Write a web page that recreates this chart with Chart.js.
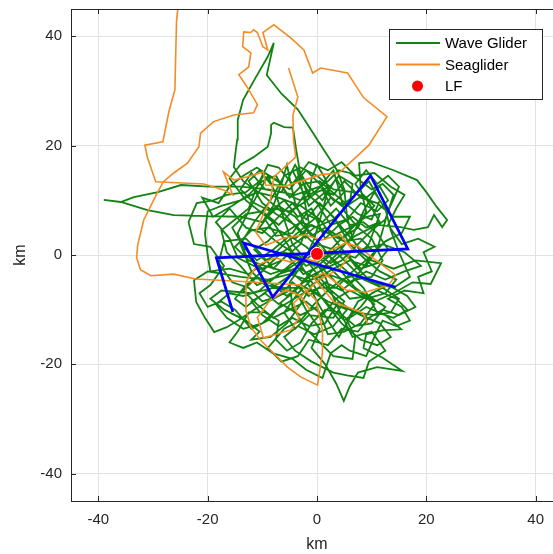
<!DOCTYPE html>
<html>
<head>
<meta charset="utf-8">
<script src="https://cdn.jsdelivr.net/npm/chart.js@4/dist/chart.umd.min.js"></script>
<style>
  html, body { margin: 0; padding: 0; background: #fff; overflow: hidden; }
  #wrap { position: absolute; left: 0; top: 0; width: 600px; height: 554px; }
</style>
</head>
<body>
<div id="wrap"><canvas id="chart" width="600" height="554"></canvas></div>
<script>
// tick values for both axes (km)
const tickValues = [-40, -20, 0, 20, 40];

// Wave Glider track, [x km, y km]
const waveGlider = [
  [-2.0,3.0],[-6.0,7.5],[-10.0,11.0],[-13.5,13.5],[-15.2,16.1],[-15.0,18.0],[-14.6,21.1],[-14.5,24.7],
  [-13.5,28.4],[-11.2,32.5],[-9.0,36.3],[-7.9,38.8],[-9.2,32.9],[-6.5,29.5],[-3.5,26.6],[-1.1,22.9],
  [1.2,19.3],[3.6,15.6],[5.0,12.0],[5.5,7.0],[6.5,3.0],[8.0,0.5],
  [10.0,-1.0],[14.0,-2.5],[18.0,-1.0],[22.7,-1.5],[20.8,-5.3],[17.5,-5.0],[14.0,-7.0],[10.5,-8.5],
  [7.0,-6.0],[4.0,-2.5],[1.0,1.5],[-2.0,5.0],[-4.0,9.5],[-5.0,14.0],[-5.5,16.5],[-6.5,13.0],
  [-8.0,9.0],[-10.0,6.0],[-13.9,7.0],[-20.0,7.1],[-26.2,7.3],[-31.0,8.2],[-35.9,9.7],[-39.0,10.1],
  [-35.9,9.7],[-33.5,10.6],[-29.1,11.5],[-24.9,12.8],[-19.8,12.5],[-13.9,12.5],[-9.0,12.0],[-4.0,11.0],
  [0.5,12.5],[3.0,15.5],[4.0,12.0],[5.0,8.0],[7.5,5.0],
  [9.0,8.0],[8.0,12.0],[7.7,16.8],[9.9,17.0],[14.0,15.5],[18.3,13.7],[20.0,11.5],[21.9,8.8],
  [23.8,6.4],[22.9,5.1],[21.4,7.3],[20.3,5.1],[17.7,4.6],[15.3,5.1],[11.0,5.5],[7.0,3.5],
  [3.0,0.5],[-1.0,-3.0],[-4.0,-6.5],
  [-2.0,-10.0],[0.5,-13.5],[-1.0,-17.0],[1.5,-20.0],[3.5,-23.5],[4.9,-26.7],[6.0,-24.0],[7.5,-21.5],
  [11.0,-20.5],[15.6,-21.2],[12.0,-18.8],[8.5,-17.0],[9.0,-14.5],[12.0,-13.8],[15.4,-13.6],[12.5,-11.0],
  [9.0,-9.5],[6.0,-11.5],[4.0,-15.0],[2.0,-12.0],[0.0,-8.5],[-2.0,-4.5],
  [-5.0,-3.5],[-9.0,-4.5],[-14.0,-4.0],[-20.0,-3.0],[-22.5,-4.6],[-22.1,-8.6],[-20.5,-11.5],[-18.8,-14.1],
  [-16.5,-13.2],[-14.3,-11.9],[-11.5,-10.0],[-8.0,-8.0],[-5.0,-6.5],[-8.0,-6.0],[-12.0,-7.0],[-17.5,-6.5],
  [-19.5,-8.0],[-17.0,-10.0],[-13.0,-12.0],[-10.5,-14.0],[-12.0,-15.5],[-8.5,-15.0],[-5.5,-12.5],[-3.0,-9.0],
  [-1.0,-5.5],
  [2.0,-3.5],[6.0,-5.0],[9.0,-3.0],[12.5,-4.5],[16.0,-3.0],[19.0,-2.0],[16.0,0.5],[12.0,2.0],
  [8.0,1.0],[5.0,4.5],[2.0,8.0],[-1.0,10.5],[-3.5,15.0],[-2.5,11.0],[-1.5,6.0],[-3.0,2.0],
  [-6.5,-1.0],[-10.0,-2.5],[-13.0,0.0],[-14.5,4.0],[-12.0,9.0],[-9.0,14.5],[-7.5,11.0],[-6.0,6.5],
  [-4.5,2.0],[-1.5,-1.5],[2.0,-6.0],[5.0,-8.5],[3.0,-11.5],[-1.5,-11.0],[-4.0,-13.5],[-6.0,-10.5],
  [-3.5,-7.0],[0.0,-3.5],[3.5,0.0],[6.5,3.5],[8.5,8.0],[10.5,11.5],[12.5,8.5],[13.5,4.5],[15.0,0.5],
  [17.0,-4.0],[14.0,-6.0],[10.0,-5.0],[7.0,-2.0],[3.5,2.5],[0.5,6.5],[-3.0,9.0],[-7.0,10.5],
  [-11.0,11.5],[-14.0,10.0],[-17.5,9.0],[-20.0,8.0],[-20.5,4.0],[-20.0,0.0],[-19.5,-3.0],[-16.0,-2.5],
  [-12.5,-3.5],[-9.0,-1.0],[-6.0,2.0],[-3.0,4.5],[0.0,7.0],[2.5,10.5],[1.5,14.0],[0.0,16.5],
  [-1.0,14.0],[-1.5,10.5],
  [-3.0,14.5],[-3.8,19.2],[-4.4,23.3],[-6.0,23.4],[-7.9,24.2],[-8.4,23.8],[-8.4,22.3],[-9.0,19.8],
  [-11.6,17.9],[-14.0,16.5],[-16.0,14.0],[-13.0,10.0],[-8.0,6.0],[-3.5,-1.0],
  [1.0,-8.0],[4.5,-12.5],[8.0,-15.5],[11.0,-16.5],[13.5,-15.0],[11.5,-12.5],[8.0,-11.0],[5.0,-9.5],
  [2.5,-7.0],[0.0,-4.5],[-3.0,-2.5],[-6.0,-4.5],[-9.0,-6.5],[-13.0,-9.5],[-15.0,-8.0],[-13.0,-5.5],
  [-10.0,-3.0],[-7.0,0.0],[-3.5,2.5],[-0.5,5.0],[3.0,6.5],[6.0,9.5],[6.5,13.0],[4.0,14.5],
  [2.0,12.0],[1.0,8.0],[-0.5,3.0],
  [-2.5,-1.5],[-5.0,-5.0],[-4.5,-9.5],[-2.0,-13.5],[0.5,-16.0],[3.0,-18.5],[6.5,-19.0],[7.0,-15.0],
  [5.5,-12.0],[7.5,-8.5],[11.0,-6.5],[14.5,-8.0],[16.5,-10.0],[14.0,-11.5],[11.0,-10.5],[8.5,-6.0],
  [5.5,-3.0],[2.0,0.0],[-1.0,2.5],[-4.0,5.5],[-7.5,7.5],[-10.0,9.5],[-12.5,13.5],[-10.5,15.5],
  [-8.5,13.0],[-6.0,12.5],[-4.5,15.5],[-3.0,12.5],[-1.5,9.0],
  [1.5,11.5],[4.5,9.0],[7.0,11.0],[9.5,13.5],[11.5,10.0],[10.0,6.5],[7.5,7.5],[4.0,10.5],
  [0.5,13.5],[-2.5,13.0],[-5.0,10.5],[-7.0,13.5],[-9.5,15.0],[-11.0,12.5],[-12.5,8.5],[-15.0,6.5],
  [-17.5,4.5],[-16.5,0.5],[-14.0,-2.0],[-11.0,-5.5],[-7.5,-4.0],[-4.0,-1.0],[-0.5,0.5],[2.5,-1.5],
  [5.0,0.5],[8.0,-2.5],[11.0,-1.5],[13.0,1.0],[11.0,4.0],[8.5,6.0],[6.0,5.5],[3.5,8.5],
  [1.0,6.0],[-2.0,7.5],[-4.5,4.0],[-7.5,3.5],[-9.5,6.5],[-7.0,9.0],[-4.0,7.0],[-1.0,3.5],
  [1.5,5.0],[4.5,3.0],[7.5,5.0],[10.0,3.0],[12.0,-1.0],[10.0,-4.0],[7.0,-4.5],[4.5,-6.5],
  [1.5,-5.0],[-1.5,-7.5],[-4.5,-5.0],[-7.0,-7.5],[-10.0,-8.5],[-12.5,-6.0],[-15.5,-5.0],[-18.0,-1.5],
  [-17.0,2.5],[-13.0,3.0],[-10.5,0.5],[-8.0,-2.5],[-5.5,0.0],[-2.5,-3.5],[0.5,-2.0],[3.0,-4.5],
  [6.0,-8.0],[9.5,-7.5],[12.5,-9.5],[10.0,-12.5],[7.0,-13.0],[4.0,-10.5],[1.5,-10.0],[-1.0,-12.5],
  [-3.0,-16.0],[-5.5,-17.5],[-7.5,-15.5],[-7.0,-12.0],[-9.5,-10.5],[-12.5,-10.5],[-14.5,-14.0],[-16.0,-16.0],
  [-13.5,-17.0],[-11.0,-16.0],[-8.0,-18.0],[-4.5,-19.0],[-2.0,-21.0],[1.0,-22.5],[2.5,-18.0],[4.5,-16.5],
  [6.0,-17.5],[9.0,-18.5],[10.5,-15.0],[12.0,-12.0],[14.5,-13.0],[17.0,-12.0],[15.5,-9.5],[13.0,-8.0],
  [16.0,-6.5],[19.5,-7.0],[18.5,-4.0],[21.0,-3.0],[19.5,0.5],[21.5,1.5],[18.5,3.0],[15.5,2.0],
  [13.0,5.5],[14.5,8.5],[16.0,11.0],[13.5,12.5],[10.5,15.0],[7.0,14.5],[4.5,17.0],[2.0,15.5],
  [-1.5,17.0],[-4.5,13.0],[-7.0,16.0],[-9.0,16.5],[-10.5,13.5],[-13.0,11.5],[-16.5,11.0],[-19.0,10.0],
  [-22.0,9.5],[-23.5,6.0],[-22.5,2.0],[-19.5,1.5],[-17.0,-2.0],[-19.5,-5.5],[-21.5,-7.0],[-20.0,-9.5],
  [-17.5,-8.5],[-15.0,-10.0],[-12.0,-13.5],[-9.0,-12.0],[-6.5,-9.0],[-3.0,-11.0],[0.0,-9.5],[2.0,-14.5],
  [5.0,-14.0],[8.0,-12.5],[10.5,-9.0],[8.0,-7.0],[4.0,-4.0],[1.0,-1.0],[-2.0,1.5],[-5.0,3.5],
  [-8.0,1.0],[-11.0,-1.0],[-13.5,1.5],[-15.5,5.0],[-13.0,7.5],[-10.0,8.0],[-7.0,5.5],[-4.0,8.5],
  [-2.0,11.5],[0.0,9.5],[2.5,5.5],[5.5,6.5],[8.0,9.5],[11.0,8.0],[13.0,10.0],[11.5,12.5],
  [9.0,10.5],[6.5,11.5],[3.0,12.0],[0.0,14.5],[-3.0,16.0],[-6.0,14.5],[-8.5,10.0],[-11.5,6.0],
  [-14.0,2.0],[-12.0,-3.0],[-9.5,-5.5],[-6.0,-6.0],[-2.0,-6.0],[2.0,-8.5],[5.5,-10.0],[3.0,-13.0],
  [-0.5,-14.5],[-3.5,-13.0],[-6.0,-15.0],[-4.0,-17.5],[-1.0,-19.5],[3.0,-21.5],[5.5,-22.0],[8.5,-22.5],
  [9.5,-19.5],[12.5,-17.5],[10.0,-14.0],[6.5,-15.0],[3.5,-9.0],[1.5,-4.0],[-1.0,0.0],[-4.0,-2.5],
  [-7.0,-3.5],[-10.5,-6.5],[-13.5,-7.5],[-16.0,-7.0],[-18.5,-9.0],[-16.5,-11.5],[-13.5,-13.5],[-10.0,-12.5],
  [-7.5,-10.0],[-5.0,-8.5],[-2.5,-7.0],[0.5,-6.0],[3.5,-6.0],[6.5,-3.0],[9.5,-0.5],[12.5,2.5],
  [15.5,4.0],[17.0,7.0],[14.0,7.0],[11.0,9.5],[8.0,10.5],[5.0,13.5],[3.0,11.0],[1.0,12.0],
  [2.5,9.0],[5.0,11.5],[3.5,14.0],[1.0,10.0],[-1.5,12.5],[-4.0,16.5],[-6.5,11.5],[-9.5,12.0],
  [-12.0,15.0],[-14.0,12.0],[-11.5,9.5],[-8.5,8.0],[-6.0,10.0],[-3.5,7.0],[-1.0,8.5],[1.5,3.0],
  [4.0,5.5],[6.5,7.0],[9.0,5.0],[11.5,6.0],[9.5,9.5],[7.0,13.0],[9.0,15.5],[11.0,13.0],
  [13.0,14.5],[15.0,12.5],[13.0,8.0],[11.0,1.0],[9.0,-2.0],[6.0,-1.0],[3.0,-2.5],[0.5,-4.0],
  [-2.5,-5.0],[-5.5,-2.5],[-8.5,-3.5],[-11.5,-2.0],[-14.5,-0.5],[-16.0,3.0],[-18.5,6.0],[-16.0,8.5],
  [-13.0,5.0],[-10.0,4.0],[-7.0,7.0],[-4.5,9.5],[-2.0,6.5],[0.5,9.5],[3.0,7.0],[6.0,2.0],
  [8.5,-0.5],[11.5,-3.0],[14.5,-4.5],[12.5,-7.0],[9.0,-8.0],[6.0,-6.5],[3.5,-8.0],[1.0,-11.0],
  [-2.0,-8.5],[-5.0,-10.0],[-8.0,-11.5],[-11.0,-9.0],[-13.5,-6.5],[-11.0,-4.0],[-8.0,-5.5],[-5.5,-7.5],
  [-3.0,-5.5],[0.0,-7.0],[2.5,-9.5],[5.0,-12.0],[8.0,-9.5],[10.0,-7.0],[13.0,-5.5],[16.5,-7.5],
  [18.0,-9.5],[15.0,-11.0],[12.0,-10.0],[9.5,-11.5],[7.5,-14.0],[4.5,-13.5],[2.0,-16.5],[-1.5,-15.5],
  [-3.5,-18.5],[-6.5,-19.5],[-9.0,-17.0],[-6.0,-13.5],[-3.0,-12.0],[-0.5,-9.0],[2.0,-6.5],[4.5,-4.5],
  [7.5,-3.5],[10.5,0.5],[8.0,3.0],[5.0,2.5],[2.0,4.0],[-1.0,5.5],[-4.0,3.0],[-7.0,4.5],
  [-9.0,2.5],[-11.5,1.0],[-9.5,-1.0],[-6.5,0.5],[-3.5,0.0],[-0.5,-2.0],[2.5,1.0],[5.5,4.0],
  [8.0,6.5],[10.5,9.0],[8.5,11.0],[5.5,9.0],[3.0,10.0],
  [0.5,13.0],[-2.0,15.5],[-5.0,12.0],[-8.0,14.0],[-11.0,16.0],[-13.5,14.5],[-16.0,12.5],[-18.0,9.5],
  [-21.0,10.5],[-19.0,7.0],[-15.5,9.0],[-12.5,11.0],[-10.0,13.5],[-7.5,14.5],[-5.5,11.0],[-3.0,10.0],
  [-0.5,11.5],[2.0,13.5],[4.0,15.5],[6.0,15.0],[8.0,13.5],[10.0,12.0],[12.0,13.0],[14.0,11.0],
  [12.5,6.5],[10.0,4.5],[7.0,1.5],[4.5,-1.0],[1.5,-2.5],[-1.5,-4.0],[-4.5,-7.0],[-7.0,-9.0],
  [-9.5,-7.0],[-12.0,-8.5],[-10.0,-11.0],[-7.0,-13.0],[-4.5,-11.5],[-1.5,-13.0],[1.5,-12.5],[4.0,-8.5],
  [7.0,-10.5],[10.5,-11.0],[13.5,-10.5],[15.0,-8.0],[12.0,-6.0],[8.5,-4.5],[6.0,-2.0],[3.0,1.0],
  [0.0,2.0],[-3.0,-1.0],[-6.0,-3.0],[-9.5,-2.0],[-12.5,-1.0],[-15.0,1.5],[-12.0,4.5],[-9.0,5.0],
  [-6.0,4.0],[-3.0,6.0],[0.0,5.0],[3.0,3.5],[6.0,5.0],[9.0,7.0],[11.5,7.5],[9.5,2.0],
  [7.0,-0.5],[4.0,0.5],[1.0,-0.5],[-2.0,-2.0],[-4.5,0.5],[-7.5,2.5],[-10.5,5.0],[-8.0,8.5],
  [-5.0,8.0],[-2.5,9.5],[0.0,11.5],[2.5,12.5]
];

// Seaglider track, [x km, y km]; null = gap between dives
const seaglider = [
  [-25.3,46.7],[-25.7,42.7],[-26.0,30.2],[-27.1,26.2],[-28.2,20.7],[-31.5,20.1],[-31.0,17.8],[-29.5,13.4],
  [-20.7,13.0],[-17.1,11.9],[-15.4,11.0],[-17.1,15.2],[-15.2,13.7],[-12.7,14.3],[-9.8,15.2],[-9.4,12.8],
  [-5.7,12.6],[0.7,14.7],[4.0,15.0],[9.5,20.1],[12.8,25.3],[8.5,28.8],[5.6,33.3],[0.7,34.2],
  [-0.8,33.3],[-2.4,37.5],[-4.8,39.7],[-7.9,42.1],[-9.9,40.7],[-9.0,37.5],[-9.9,38.1],[-10.9,40.7],
  [-11.6,41.2],[-12.1,40.7],[-13.4,40.8],[-13.6,38.1],[-12.1,37.0],[-12.5,34.4],[-14.3,33.0],[-12.7,30.6],
  [-10.9,27.5],[-11.6,26.0],[-15.2,25.6],[-18.9,24.4],[-21.3,22.3],[-21.6,19.8],[-23.7,16.8],[-26.2,15.0],
  [-28.1,13.4],[-29.2,11.4],[-31.7,6.4],[-32.8,1.8],[-33.0,-0.5],[-32.3,-2.7],[-30.4,-3.8],[-26.2,-3.5],
  [-22.2,-4.4],[-12.7,-4.9],[-3.0,-5.5],[-0.2,-8.2],[1.0,-13.7],[1.0,-17.9],[0.1,-23.8],[-3.0,-22.3],
  [-5.4,-20.5],[-7.2,-18.7],[-10.3,-15.6],[-12.1,-13.2],[-13.0,-10.1],[-13.0,-4.9],[-10.9,-1.8],[-7.6,-0.5],
  [-4.8,-1.3],[-2.4,-0.5],[-0.1,-1.3],[2.5,0.9],[5.3,2.2],[7.6,1.5],[10.7,-0.9],[14.4,-3.7],
  [13.1,-5.5],[8.9,-6.8],[5.3,-6.4],[1.2,-3.3],[-0.6,-4.2],[3.1,-8.6],[8.4,-10.6],[9.3,-12.5],
  null,
  [-5.2,34.2],[-3.5,28.9],[-4.4,25.6],[-4.3,21.1],[-3.9,17.9],[-7.9,14.3],[-8.5,10.1],[-9.9,7.3],
  [-11.2,4.2],[-9.4,1.8],[-6.1,3.1],[-2.1,3.7],[0.7,2.7],[4.3,3.7],[6.5,0.9],[4.3,-2.4],
  [0.3,-4.6],[-4.3,-8.8],[-3.3,-11.5],[-4.8,-13.7],[-9.8,-15.2],[-10.9,-11.4],[-8.5,-8.2],[-5.7,-6.4],
  [-3.0,-7.5],[-1.2,-10.1]
];

// mooring array track, [x km, y km]
const mooringTrack = [[-15.4,-10.4],[-18.4,-0.5],[16.6,1.1],[9.8,14.5],[-8.1,-7.7],[-13.4,2.2],[14.4,-5.9]];

// LF position
const lfPoint = [[0, 0.2]];

const legendLabels = ['Wave Glider', 'Seaglider', 'LF'];
const colGreen = '#128212';
const colOrange = '#f48c25';
const colBlue = '#0000ff';
const colRed = '#ff0000';

const toXY = arr => arr.map(p => p ? {x: p[0], y: p[1]} : {x: NaN, y: NaN});

// box legend + inward tick marks + top axis line, matlab style
const matlabBox = {
  id: 'matlabBox',
  afterDraw(chart) {
    const ctx = chart.ctx;
    const a = chart.chartArea;
    const xs = chart.scales.x, ys = chart.scales.y;
    ctx.save();
    ctx.strokeStyle = '#262626';
    ctx.lineWidth = 1;
    ctx.beginPath();
    ctx.moveTo(a.left, a.top + 0.5);
    ctx.lineTo(a.right, a.top + 0.5);
    tickValues.forEach(v => {
      const px = Math.round(xs.getPixelForValue(v)) + 0.5;
      ctx.moveTo(px, a.bottom); ctx.lineTo(px, a.bottom - 5);
      ctx.moveTo(px, a.top); ctx.lineTo(px, a.top + 5);
      const py = Math.round(ys.getPixelForValue(v)) + 0.5;
      ctx.moveTo(a.left, py); ctx.lineTo(a.left + 5, py);
    });
    ctx.stroke();

    // legend
    const bx = 389.5, by = 29.5, bw = 153, bh = 70;
    ctx.fillStyle = '#fff';
    ctx.fillRect(bx, by, bw, bh);
    ctx.strokeStyle = '#262626';
    ctx.strokeRect(bx, by, bw, bh);
    const rows = [43, 64.5, 86];
    ctx.font = '15px "Liberation Sans", Arial, sans-serif';
    ctx.textBaseline = 'middle';
    ctx.fillStyle = '#000';
    legendLabels.forEach((lab, i) => {
      const y = rows[i];
      if (i < 2) {
        ctx.strokeStyle = i === 0 ? colGreen : colOrange;
        ctx.lineWidth = 1.8;
        ctx.beginPath();
        ctx.moveTo(396, y); ctx.lineTo(440, y);
        ctx.stroke();
      } else {
        ctx.fillStyle = colRed;
        ctx.beginPath();
        ctx.arc(417.5, y, 5.5, 0, Math.PI * 2);
        ctx.fill();
        ctx.fillStyle = '#000';
      }
      ctx.fillText(lab, 445, y + 1);
    });
    ctx.restore();
  }
};

Chart.defaults.font.family = '"Liberation Sans", Arial, sans-serif';

const tickFont = {size: 15};
new Chart(document.getElementById('chart'), {
  type: 'scatter',
  data: {
    datasets: [
      {label: legendLabels[2], data: toXY(lfPoint), showLine: false, pointRadius: 6.5,
       pointBackgroundColor: colRed, pointBorderColor: '#ffffff', pointBorderWidth: 1, order: 0},
      {label: 'track', data: toXY(mooringTrack), showLine: true, borderColor: colBlue, borderWidth: 2.8,
       pointRadius: 0, order: 1},
      {label: legendLabels[1], data: toXY(seaglider), showLine: true, spanGaps: false, borderColor: colOrange,
       borderWidth: 1.6, pointRadius: 0, order: 2},
      {label: legendLabels[0], data: toXY(waveGlider), showLine: true, borderColor: colGreen,
       borderWidth: 1.8, pointRadius: 0, order: 3}
    ]
  },
  options: {
    responsive: false,
    animation: false,
    devicePixelRatio: 1,
    layout: {padding: {top: 9, right: 37, left: 0, bottom: 0}},
    plugins: {legend: {display: false}, tooltip: {enabled: false}},
    scales: {
      x: {
        type: 'linear', min: -45, max: 45,
        afterBuildTicks: s => { s.ticks = tickValues.map(v => ({value: v})); },
        afterFit: s => { s.height = 53; s.paddingLeft = 0; s.paddingRight = 0; },
        grid: {color: '#e2e2e2', drawTicks: false},
        border: {color: '#262626', width: 1},
        ticks: {font: tickFont, color: '#262626', padding: 10},
        title: {display: true, text: 'km', font: {size: 16}, color: '#262626', padding: {top: 0, bottom: 0}}
      },
      y: {
        type: 'linear', min: -45, max: 45,
        afterBuildTicks: s => { s.ticks = tickValues.map(v => ({value: v})); },
        afterFit: s => { s.width = 71; s.paddingTop = 0; s.paddingBottom = 0; },
        grid: {color: '#e2e2e2', drawTicks: false},
        border: {color: '#262626', width: 1},
        ticks: {font: tickFont, color: '#262626', padding: 9},
        title: {display: true, text: 'km', font: {size: 16}, color: '#262626', padding: {top: 11, bottom: 0}}
      }
    }
  },
  plugins: [matlabBox]
});
</script>
</body>
</html>
